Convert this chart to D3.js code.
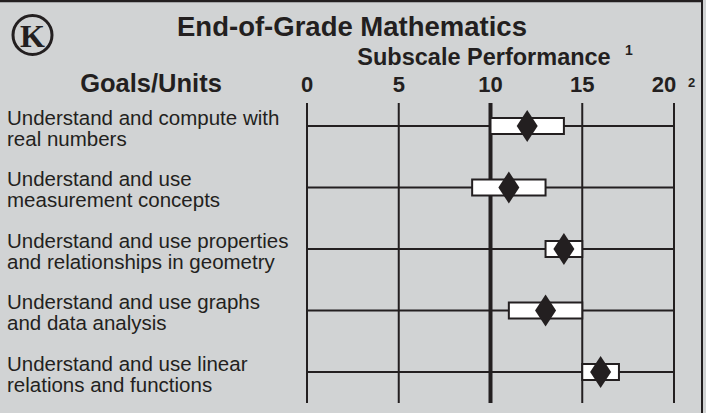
<!DOCTYPE html>
<html>
<head>
<meta charset="utf-8">
<script src="https://cdn.jsdelivr.net/npm/d3@7"></script>
<style>
  body { margin: 0; background: #d1d3d4; }
  svg { display: block; }
  text { font-family: "Liberation Sans", Arial, sans-serif; fill: #231f20; }
</style>
</head>
<body>
<script>
// goals, one entry per row, two lines of label each
const goals = [
  ["Understand and compute with", "real numbers"],
  ["Understand and use", "measurement concepts"],
  ["Understand and use properties", "and relationships in geometry"],
  ["Understand and use graphs", "and data analysis"],
  ["Understand and use linear", "relations and functions"]
];
const lows = [10, 9, 13, 11, 15];
const highs = [14, 13, 15, 15, 17];
const scores = [12, 11, 14, 13, 16];
const ticks = [0, 5, 10, 15, 20];

const W = 706, H = 413;
const ink = "#231f20";

const svg = d3.select("body").append("svg")
  .attr("width", W)
  .attr("height", H);

svg.append("rect")
  .attr("width", W).attr("height", H)
  .attr("fill", "#d1d3d4");

// frame: only top and right edge show
svg.append("line").attr("x1", 0).attr("x2", 703).attr("y1", 1).attr("y2", 1)
  .attr("stroke", ink).attr("stroke-width", 2.5);
svg.append("line").attr("x1", 702).attr("x2", 702).attr("y1", 0).attr("y2", H)
  .attr("stroke", ink).attr("stroke-width", 2);

const x = d3.scaleLinear().domain([0, 20]).range([307, 674]);
const y = d3.scalePoint().domain(d3.range(goals.length)).range([126, 372]);

// K logo
svg.append("circle").attr("cx", 32.5).attr("cy", 35).attr("r", 19.5)
  .attr("fill", "none").attr("stroke", ink).attr("stroke-width", 3);
svg.append("text").attr("x", 32.5).attr("y", 46.5)
  .attr("text-anchor", "middle")
  .style("font-family", "'Liberation Serif', 'Times New Roman', serif")
  .style("font-weight", "bold").style("font-size", "32px")
  .text("K");

// headings
svg.append("text").attr("x", 352).attr("y", 36)
  .attr("text-anchor", "middle")
  .style("font-weight", "bold").style("font-size", "27.5px")
  .text("End-of-Grade Mathematics");

svg.append("text").attr("x", 484).attr("y", 65)
  .attr("text-anchor", "middle")
  .style("font-weight", "bold").style("font-size", "23.5px")
  .text("Subscale Performance");
svg.append("text").attr("x", 625).attr("y", 55)
  .style("font-weight", "bold").style("font-size", "14px")
  .text("1");

svg.append("text").attr("x", 151).attr("y", 92)
  .attr("text-anchor", "middle")
  .style("font-weight", "bold").style("font-size", "25.5px")
  .text("Goals/Units");

// tick labels
svg.selectAll(".tick-label")
  .data(ticks)
  .join("text")
  .attr("class", "tick-label")
  .attr("x", d => d === 20 ? x(d) - 10 : x(d))
  .attr("y", 92)
  .attr("text-anchor", "middle")
  .style("font-weight", "bold").style("font-size", "22px")
  .text(d => d);
svg.append("text").attr("x", 688).attr("y", 87)
  .style("font-weight", "bold").style("font-size", "13px")
  .text("2");

// vertical grid
svg.selectAll(".vline")
  .data(ticks)
  .join("line")
  .attr("class", "vline")
  .attr("x1", d => x(d)).attr("x2", d => x(d))
  .attr("y1", 103).attr("y2", 403)
  .attr("stroke", ink)
  .attr("stroke-width", d => d === 10 ? 4 : 2);

// horizontal row lines
svg.selectAll(".hline")
  .data(goals)
  .join("line")
  .attr("class", "hline")
  .attr("x1", x(0)).attr("x2", x(20))
  .attr("y1", (d, i) => y(i)).attr("y2", (d, i) => y(i))
  .attr("stroke", ink).attr("stroke-width", 2);

// goal labels
const labels = svg.selectAll(".goal")
  .data(goals)
  .join("text")
  .attr("class", "goal")
  .style("font-size", "20.5px");
labels.selectAll("tspan")
  .data((d, i) => d.map((t, j) => ({ t, i, j })))
  .join("tspan")
  .attr("x", 7)
  .attr("y", d => y(d.i) - 1.5 + d.j * 21)
  .text(d => d.t);

// score bands
svg.selectAll(".band")
  .data(goals)
  .join("rect")
  .attr("class", "band")
  .attr("x", (d, i) => x(lows[i]))
  .attr("width", (d, i) => x(highs[i]) - x(lows[i]))
  .attr("y", (d, i) => y(i) - 8)
  .attr("height", 16)
  .attr("fill", "#fff")
  .attr("stroke", ink).attr("stroke-width", 2);

// score diamonds
svg.selectAll(".score")
  .data(scores)
  .join("path")
  .attr("class", "score")
  .attr("d", (d, i) => {
    const cx = x(d), cy = y(i);
    return `M${cx},${cy - 16}L${cx + 10.5},${cy}L${cx},${cy + 16}L${cx - 10.5},${cy}Z`;
  })
  .attr("fill", ink);
</script>
</body>
</html>
